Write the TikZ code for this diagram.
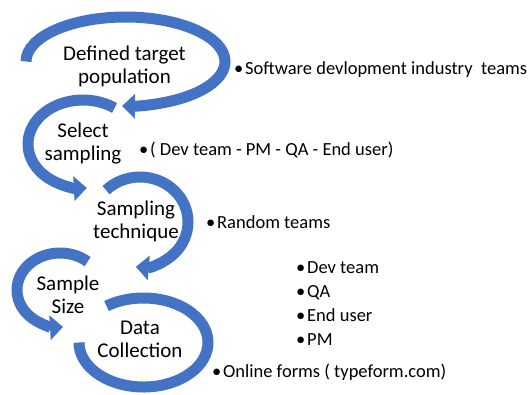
\documentclass[tikz,border=0pt]{standalone}
\usepackage{fontspec}
\setmainfont{Carlito}
\usetikzlibrary{arrows.meta}
\definecolor{arcblue}{HTML}{4472C4}
\newcommand{\bul}[1]{\makebox[11pt][l]{•}#1}

\begin{document}
\begin{tikzpicture}[x=1pt,y=1pt]
\tikzstyle{band}=[draw=arcblue, line width=11pt]
\tikzstyle{stage}=[align=center, inner sep=0pt, font=\fontsize{21}{23}\selectfont]
\tikzstyle{note}=[anchor=west, align=left, inner sep=0pt, font=\fontsize{18.5}{24}\selectfont]

\useasboundingbox (0,0) rectangle (532,-394);

% circle arrows: centre, radii, start and end angle
\foreach \cx/\cy/\rx/\ry/\a/\b in {125.5/-61.5/99.5/44.5/180/-92, 83/-144/55/44/55/274, 140/-222/48/45/135/-95, 60/-290/43/37/50/274} {
\draw[band, -{Triangle[width=24pt,length=13pt]}] (\cx,\cy) ++(\a:\rx pt and \ry pt) arc[start angle=\a, end angle=\b, x radius=\rx pt, y radius=\ry pt];
}
\draw[band] (143.5,-342.5) ++(125:64.5pt and 44.5pt) arc[start angle=125, end angle=-180, x radius=64.5pt, y radius=44.5pt];

\node[stage] (target) at (124.5,-66) {Defined target\\population};
\node[stage] (select) at (83,-144) {Select\\sampling};
\node[stage] (technique) at (136,-221) {Sampling\\technique};
\node[stage] (size) at (68,-295) {Sample\\Size};
\node[stage] (collect) at (140,-339) {Data\\Collection};

\node[note] (industry) at (234,-70) {\bul{Software devlopment industry\ \ teams}};
\node[note] (roles) at (139,-150) {\bul{( Dev team - PM - QA - End user)}};
\node[note] (random) at (206,-222) {\bul{Random teams}};
\node[note] (members) at (296,-304) {\bul{Dev team}\\\bul{QA}\\\bul{End user}\\\bul{PM}};
\node[note] (forms) at (212,-372) {\bul{Online forms ( typeform.com)}};

\end{tikzpicture}
\end{document}
